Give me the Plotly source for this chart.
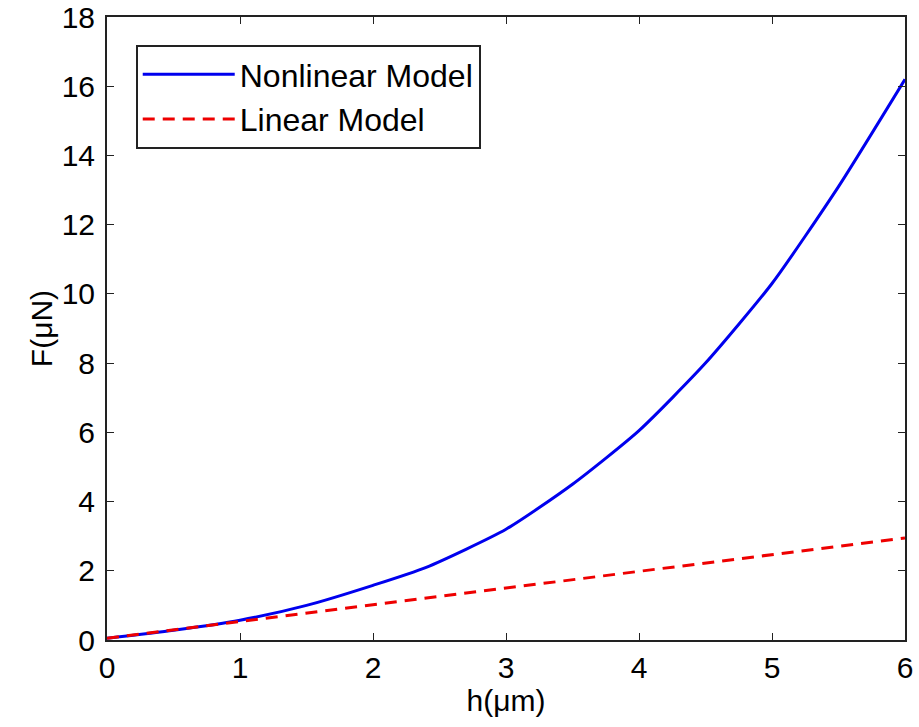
import plotly.graph_objects as go

h_nl = [0, 0.5, 1, 1.5, 2, 2.4, 3, 3.5, 4, 4.5, 5, 5.5, 6]
F_nl = [0.05, 0.28, 0.57, 1.0, 1.58, 2.1, 3.2, 4.5, 6.05, 8.0, 10.3, 13.1, 16.2]
h_lin = [0, 6]
F_lin = [0.05, 2.95]
x_ticks = [0, 1, 2, 3, 4, 5, 6]
y_ticks = [0, 2, 4, 6, 8, 10, 12, 14, 16, 18]

fig = go.Figure()
fig.add_trace(go.Scatter(x=h_nl, y=F_nl, mode="lines", name="Nonlinear Model",
                         line=dict(color="#0000ee", width=3, shape="spline", smoothing=0.6)))
fig.add_trace(go.Scatter(x=h_lin, y=F_lin, mode="lines", name="Linear Model",
                         line=dict(color="#ee0000", width=3, dash="12px,8px")))

font = dict(family="Liberation Sans, Arial, sans-serif", size=32, color="black")
tfont = dict(family="Liberation Sans, Arial, sans-serif", size=30, color="black")
axis_common = dict(showline=True, linecolor="#222222", linewidth=2, mirror="ticks",
                   ticks="inside", ticklen=7, tickcolor="#222222", showgrid=False,
                   zeroline=False, tickfont=tfont, automargin=False,
                   ticklabeloverflow="allow")
fig.update_layout(
    width=919, height=727,
    margin=dict(l=107, r=14, t=17, b=87),
    paper_bgcolor="white", plot_bgcolor="white",
    font=font,
    xaxis=dict(range=[0, 6], tickvals=x_ticks, ticklabelstandoff=0,
               title=dict(text="h(μm)", font=tfont, standoff=0), **axis_common),
    yaxis=dict(range=[0, 18], tickvals=y_ticks, ticklabelstandoff=4,
               title=dict(text="F(μN)", font=tfont, standoff=0), **axis_common),
    legend=dict(x=0.036, y=0.955, xanchor="left", yanchor="top", bordercolor="#222222",
                borderwidth=2, bgcolor="white", font=font, itemwidth=92, tracegroupgap=0),
)
fig.write_html("out.html")
